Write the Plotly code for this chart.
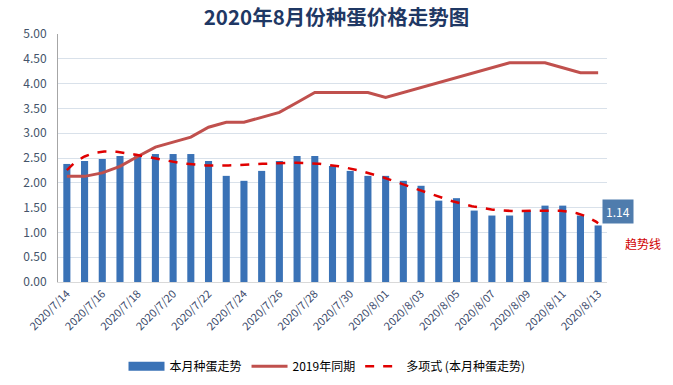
import numpy as np
import plotly.graph_objects as go

dates = ["2020/7/14", "2020/7/15", "2020/7/16", "2020/7/17", "2020/7/18", "2020/7/19",
         "2020/7/20", "2020/7/21", "2020/7/22", "2020/7/23", "2020/7/24", "2020/7/25",
         "2020/7/26", "2020/7/27", "2020/7/28", "2020/7/29", "2020/7/30", "2020/7/31",
         "2020/8/01", "2020/8/02", "2020/8/03", "2020/8/04", "2020/8/05", "2020/8/06",
         "2020/8/07", "2020/8/08", "2020/8/09", "2020/8/10", "2020/8/11", "2020/8/12",
         "2020/8/13"]
price_2020 = [2.38, 2.44, 2.48, 2.54, 2.58, 2.58, 2.58, 2.58, 2.44, 2.14, 2.04, 2.24,
              2.44, 2.54, 2.54, 2.34, 2.24, 2.14, 2.14, 2.04, 1.94, 1.64, 1.69, 1.44,
              1.34, 1.34, 1.44, 1.54, 1.54, 1.34, 1.14]
price_2019 = [2.13, 2.13, 2.20, 2.33, 2.53, 2.72, 2.82, 2.92, 3.12, 3.22, 3.22, 3.32,
              3.42, 3.62, 3.82, 3.82, 3.82, 3.82, 3.72, 3.82, 3.92, 4.02, 4.12, 4.22,
              4.32, 4.42, 4.42, 4.42, 4.32, 4.22, 4.22]
yticks = [0, 0.5, 1.0, 1.5, 2.0, 2.5, 3.0, 3.5, 4.0, 4.5, 5.0]

idx = np.arange(len(dates))
coef = np.polyfit(idx, price_2020, 6)
xs = np.linspace(0, len(dates) - 1, 300)
trend = np.polyval(coef, xs)

font_fam = "Noto Sans CJK SC, Noto Sans, sans-serif"
bar_color = "#3a72b6"

fig = go.Figure()
fig.add_trace(go.Bar(x=idx, y=price_2020, name="本月种蛋走势", width=0.4, showlegend=False,
                     marker=dict(color=bar_color, line=dict(width=0))))
# legend swatch for the bars (wide rectangle like the reference)
fig.add_trace(go.Scatter(x=[None], y=[None], name="本月种蛋走势", mode="lines",
                         line=dict(color=bar_color, width=9)))
fig.add_trace(go.Scatter(x=idx, y=price_2019, name="2019年同期", mode="lines",
                         line=dict(color="#c0504d", width=3)))
fig.add_trace(go.Scatter(x=xs, y=trend, name="多项式 (本月种蛋走势)", mode="lines",
                         line=dict(color="#e00000", width=2.5, dash="dash")))

fig.add_annotation(x=idx[-1], y=price_2020[-1], text="1.14", showarrow=False,
                   xshift=20, yshift=14, bgcolor="#4f7cad", borderpad=3,
                   font=dict(color="white", size=12, family=font_fam))
fig.add_annotation(x=idx[-1], y=price_2020[-1], text="趋势线", showarrow=False,
                   xshift=45, yshift=-18, font=dict(color="#d00000", size=12, family=font_fam))

fig.update_layout(
    width=673, height=385,
    margin=dict(l=58, r=66, t=34, b=103, autoexpand=False),
    paper_bgcolor="white", plot_bgcolor="white",
    title=dict(text="<b>2020年8月份种蛋价格走势图</b>", x=0.5, xanchor="center",
               y=0.955, yanchor="middle",
               font=dict(size=20.5, color="#1f3864", family=font_fam)),
    font=dict(family=font_fam, color="#44546a"),
    showlegend=True,
    legend=dict(orientation="h", x=0.49, xanchor="center", y=-0.34, yanchor="middle",
                font=dict(size=12, color="#000000"), traceorder="normal",
                itemwidth=36),
    bargap=0.6,
)
fig.update_xaxes(range=[-0.5, len(dates) - 0.5], tickmode="array",
                 tickvals=list(idx[::2]), ticktext=dates[::2], tickangle=-45,
                 tickfont=dict(size=11, color="#3b4a6b"), showgrid=False,
                 showline=True, linecolor="#d9d9d9", zeroline=False, ticks="",
                 automargin=False)
fig.update_yaxes(range=[0, 5], tickmode="array", tickvals=yticks,
                 ticktext=[f"{v:.2f}" for v in yticks],
                 tickfont=dict(size=12, color="#44546a"),
                 showgrid=True, gridcolor="#d9e1ea", gridwidth=1,
                 showline=True, linecolor="#a6a6a6", zeroline=False, ticks="",
                 ticklabelstandoff=8, automargin=False)

fig.write_html("out.html", config={"displayModeBar": False},
               post_script="document.body.style.margin='0';document.body.style.overflow='hidden';")
